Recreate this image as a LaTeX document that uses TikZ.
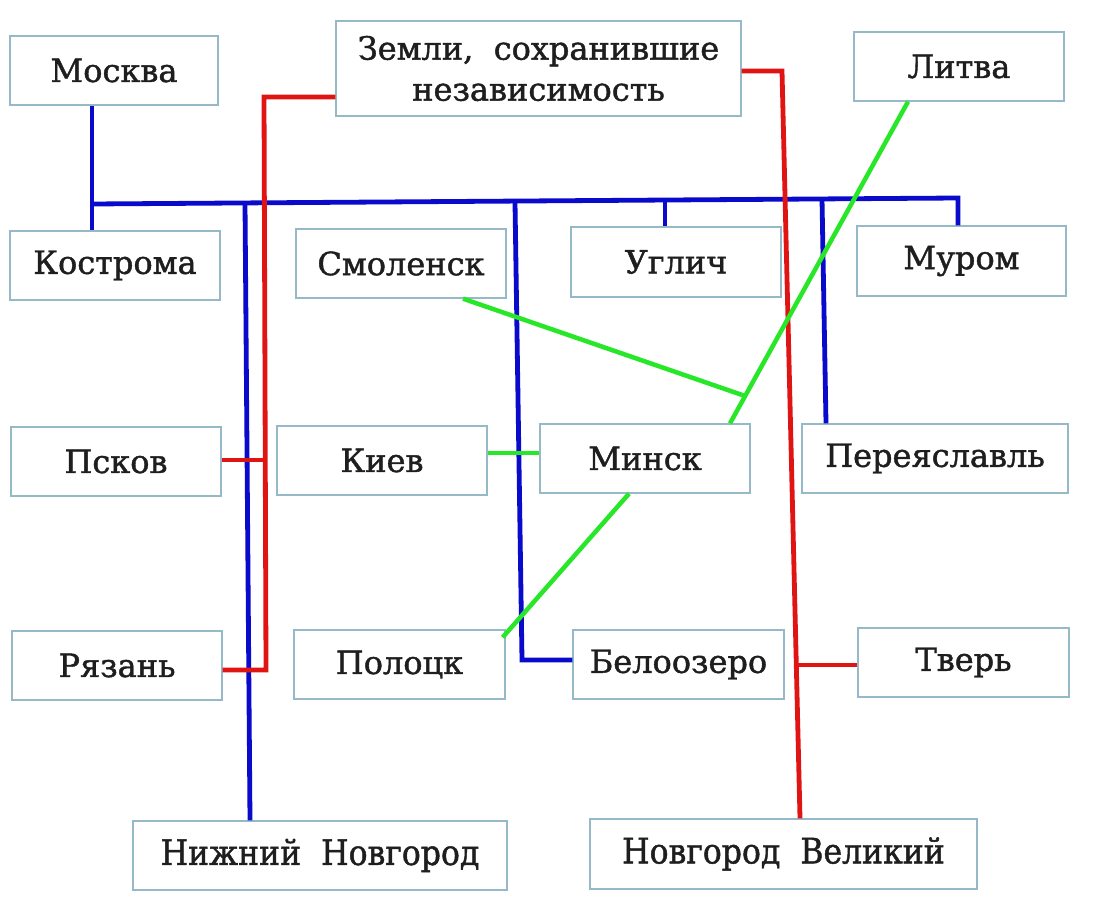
\documentclass[tikz,border=0pt]{standalone}
\usepackage{fontspec}
\setmainfont{DejaVu Serif}
\newfontfamily\cityfont[UprightFeatures={FakeBold=1.3}]{DejaVu Serif}
\newfontfamily\condfont[UprightFeatures={FakeBold=1.3}, FakeStretch=0.9]{DejaVu Serif}
\usetikzlibrary{calc}
\definecolor{boxline}{RGB}{150,185,200}
\definecolor{lblue}{RGB}{10,10,205}
\definecolor{lred}{RGB}{225,20,20}
\definecolor{lgreen}{RGB}{40,230,40}
\definecolor{txt}{RGB}{30,30,30}
\tikzset{
  city/.style={draw=boxline, line width=1.3pt, inner sep=0pt, text=txt,
    font=\cityfont\fontsize{32}{41}\selectfont, align=center},
  bluel/.style={draw=lblue, line width=4.8pt},
  redl/.style={draw=lred, line width=4.8pt},
  greenl/.style={draw=lgreen, line width=4.5pt},
}
\begin{document}
\begin{tikzpicture}[x=1pt,y=-1pt]
\useasboundingbox[fill=white] (0,0) rectangle (1099,917);
% boxes
\node[city, minimum width=208pt, minimum height=69pt] (moskva) at (114,70.5) {Москва};
\node[city, minimum width=405pt, minimum height=95pt] (zemli) at (538.5,68.5) {Земли,\ \ сохранившие\\[0pt]независимость};
\node[city, minimum width=210pt, minimum height=69pt] (litva) at (959,66.5) {Литва};
\node[city, minimum width=210pt, minimum height=69pt] (kostroma) at (115,265.5) {Кострома};
\node[city, minimum width=210pt, minimum height=69pt] (smolensk) at (401,263.5) {Смоленск};
\node[city, minimum width=210pt, minimum height=70pt] (uglich) at (676,262) {Углич};
\node[city, minimum width=209pt, minimum height=70pt] (murom) at (961.5,261) {Муром};
\node[city, minimum width=210pt, minimum height=69pt] (pskov) at (116,461.5) {Псков};
\node[city, minimum width=210pt, minimum height=69pt] (kiev) at (382,460.5) {Киев};
\node[city, minimum width=210pt, minimum height=69pt] (minsk) at (645,458.5) {Минск};
\node[city, minimum width=266pt, minimum height=69pt] (pereyaslavl) at (935,458.5) {Переяславль};
\node[city, minimum width=210pt, minimum height=69pt] (ryazan) at (117,665.5) {Рязань};
\node[city, minimum width=211pt, minimum height=69pt] (polotsk) at (399.5,664.5) {Полоцк};
\node[city, minimum width=211pt, minimum height=69pt] (beloozero) at (678.5,664.5) {Белоозеро};
\node[city, minimum width=211pt, minimum height=69pt] (tver) at (963.5,662.5) {Тверь};
\node[city, minimum width=374pt, minimum height=69pt, font=\condfont\fontsize{35}{40}\selectfont] (nnov) at (320,855.5) {Нижний\ \ Новгород};
\node[city, minimum width=387pt, minimum height=70pt, font=\condfont\fontsize{35}{40}\selectfont] (velikiy) at (783.5,854) {Новгород\ \ Великий};
% junction coordinates
\coordinate (mx) at (92,0);
\coordinate (busl) at (92,204);
\coordinate (busr) at (958,198);
\coordinate (d1) at (245,203);
\coordinate (d1b) at (250,0);
\coordinate (d2) at (515,202.5);
\coordinate (d2b) at (522,660);
\coordinate (d3) at (665,201);
\coordinate (d4) at (822,199);
\coordinate (d4b) at (826,0);
\coordinate (rl) at (264,97);
\coordinate (rlb) at (266,670);
\coordinate (rp) at (265,460);
\coordinate (rr) at (782,71);
\coordinate (rrb) at (800,0);
\coordinate (rt) at (798,665);
\coordinate (gl) at (908,0);
\coordinate (gm) at (730,0);
\coordinate (gs) at (463,0);
\coordinate (gk) at (0,453);
\coordinate (gmb) at (629,0);
% blue connectors
\draw[bluel] (moskva.south -| mx) -- (kostroma.north -| mx);
\draw[bluel, line join=miter] (busl) -- (busr) -- (murom.north -| busr);
\draw[bluel] (d1) -- (nnov.north -| d1b);
\draw[bluel, line join=miter] (d2) -- (d2b) -- (beloozero.west |- d2b);
\draw[bluel] (d3) -- (uglich.north -| d3);
\draw[bluel] (d4) -- (pereyaslavl.north -| d4b);
% red connectors
\draw[redl, line join=miter] (zemli.west |- rl) -- (rl) -- (rlb) -- (ryazan.east |- rlb);
\draw[redl] (pskov.east |- rp) -- (rp);
\draw[redl, line join=miter] (zemli.east |- rr) -- (rr) -- (velikiy.north -| rrb);
\draw[redl] (rt) -- (tver.west |- rt);
% green connectors
\coordinate (glt) at (litva.south -| gl);
\coordinate (gmn) at (minsk.north -| gm);
\draw[greenl] (glt) -- (gmn);
\draw[greenl] (smolensk.south -| gs) -- ($(glt)!0.915!(gmn)$);
\draw[greenl] (kiev.east |- gk) -- (minsk.west |- gk);
\draw[greenl] (minsk.south -| gmb) -- ($(polotsk.north east)+(-3,8)$);
\end{tikzpicture}
\end{document}
